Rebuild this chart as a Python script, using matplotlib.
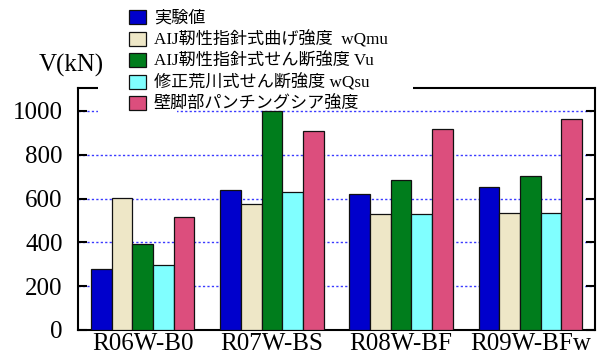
import matplotlib
matplotlib.use("Agg")
import matplotlib.pyplot as plt
from matplotlib.patches import Rectangle
import numpy as np

plt.rcParams['font.family'] = ['Liberation Serif', 'Noto Sans CJK JP', 'DejaVu Sans']

specimens = ['R06W-B0', 'R07W-BS', 'R08W-BF', 'R09W-BFw']
series_names = ['実験値',
                'AIJ靭性指針式曲げ強度  wQmu',
                'AIJ靭性指針式せん断強度 Vu',
                '修正荒川式せん断強度 wQsu',
                '壁脚部パンチングシア強度']
experiment = [277, 641, 622, 652]
aij_flex = [603, 574, 528, 535]
aij_shear = [392, 1002, 685, 702]
arakawa = [295, 628, 528, 535]
punching = [518, 910, 918, 965]
yticks = [0, 200, 400, 600, 800, 1000]

colors = ['#0000cc', '#eee7c7', '#007d1c', '#80ffff', '#dc4e7d']
series = [experiment, aij_flex, aij_shear, arakawa, punching]

fig = plt.figure(figsize=(6.07, 3.54), dpi=100)
ax = fig.add_axes([78 / 607, 1 - 330 / 354, (595 - 78) / 607, (330 - 88) / 354])

x = np.arange(len(specimens))
w = 0.16
for i, (vals, c, name) in enumerate(zip(series, colors, series_names)):
    ax.bar(x + (i - 2) * w, vals, width=w, color=c, edgecolor='#111111',
           linewidth=0.9, label=name, zorder=3)

ax.set_xlim(-0.5, len(specimens) - 0.5)
ax.set_ylim(0, 1105)
ax.set_yticks(yticks)
ax.set_xticks(x)
ax.set_xticklabels(specimens)
ax.yaxis.grid(True, color='#3a3aff', linestyle=(0, (1.6, 1.6)), linewidth=1.0, zorder=1)
ax.set_axisbelow(True)

for s in ax.spines.values():
    s.set_linewidth(1.5)
ax.tick_params(axis='y', direction='in', length=6.5, width=1.5, right=True,
               labelsize=18, pad=11)
ax.tick_params(axis='x', length=0, labelsize=18, pad=2)

fig.text(39 / 607, 1 - 65 / 354, 'V(kN)', fontsize=18, ha='left', va='center')

# white areas behind the legend that hide the frame and top grid line
for (x0, y0, x1, y1) in [(98, 80, 413, 100), (98, 105, 177, 115)]:
    ax.add_patch(Rectangle((x0 / 607, 1 - y1 / 354), (x1 - x0) / 607, (y1 - y0) / 354,
                           transform=fig.transFigure, facecolor='white',
                           edgecolor='none', zorder=4, clip_on=False))

leg = ax.legend(loc='upper left', bbox_to_anchor=(129 / 607, 1 - 10 / 354),
                bbox_transform=fig.transFigure, frameon=False, fontsize=12.3,
                borderpad=0, borderaxespad=0, handlelength=1.0, handleheight=0.85,
                handletextpad=0.45, labelspacing=0.26)
leg.set_zorder(10)

fig.savefig('out.png', dpi=100)
